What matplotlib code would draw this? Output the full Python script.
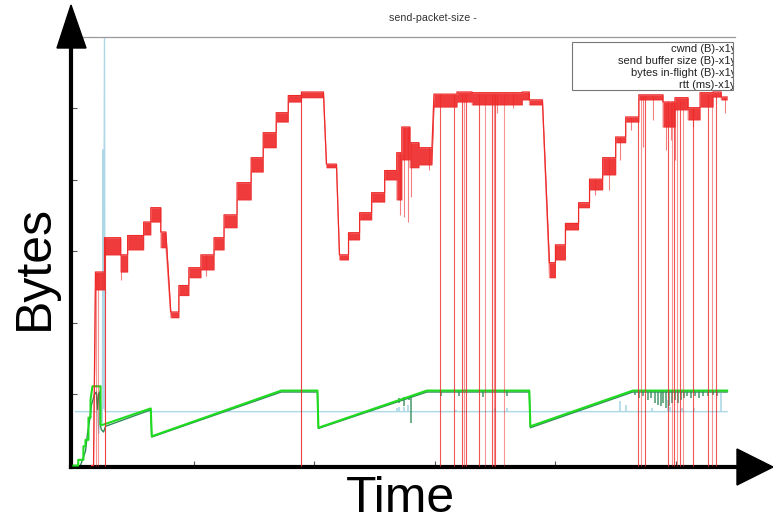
import numpy as np
import matplotlib
matplotlib.use('Agg')
import matplotlib.pyplot as plt
from matplotlib.patches import Polygon, Rectangle

plt.rcParams['font.family'] = ['Liberation Sans', 'DejaVu Sans']

title = "send-packet-size -"
series_labels = ["cwnd (B)-x1y", "send buffer size (B)-x1y",
                 "bytes in-flight (B)-x1y", "rtt (ms)-x1y"]
x_label = "Time"
y_label = "Bytes"
x_ticks = [1, 2, 3, 4, 5]
y_ticks = [1, 2, 3, 4, 5]

# ---- cwnd: plateaus (start, end, upper envelope, lower envelope) ----
cwnd_start = [0.15, 0.183, 0.258, 0.392, 0.45, 0.583, 0.642, 0.725,
              0.808, 0.875, 0.958, 1.058, 1.167, 1.25, 1.358, 1.475, 1.575, 1.683, 1.783, 1.892,
              2.1, 2.208, 2.283, 2.375, 2.475, 2.583, 2.683, 2.725, 2.792, 2.867,
              2.992, 3.183, 3.308, 3.725, 3.783,
              3.95, 4.0, 4.083, 4.192, 4.283, 4.392, 4.5, 4.583, 4.692, 4.892, 4.992, 5.1, 5.2, 5.308, 5.375]
cwnd_end = [0.167, 0.258, 0.392, 0.45, 0.583, 0.642, 0.725, 0.767,
            0.875, 0.958, 1.058, 1.167, 1.25, 1.358, 1.475, 1.575, 1.683, 1.783, 1.892, 2.075,
            2.183, 2.283, 2.375, 2.475, 2.583, 2.683, 2.725, 2.792, 2.867, 2.975,
            3.183, 3.308, 3.725, 3.783, 3.892,
            4.0, 4.083, 4.192, 4.283, 4.392, 4.5, 4.583, 4.692, 4.892, 4.992, 5.1, 5.2, 5.308, 5.375, 5.425]
cwnd_hi = [0.0, 2.71, 3.19, 2.95, 3.22, 3.41, 3.61, 3.27,
           2.15, 2.52, 2.77, 2.95, 3.19, 3.51, 3.96, 4.31, 4.66, 4.94, 5.18, 5.23,
           4.22, 2.95, 3.26, 3.54, 3.82, 4.13, 4.38, 4.74, 4.52, 4.45,
           5.20, 5.23, 5.22, 5.23, 5.12,
           2.84, 3.09, 3.39, 3.68, 4.01, 4.31, 4.60, 4.88, 5.19, 5.09, 5.15, 5.01, 5.22, 5.23, 5.16]
cwnd_lo = [0.0, 2.46, 2.95, 2.71, 3.02, 3.23, 3.41, 3.05,
           2.07, 2.38, 2.63, 2.74, 3.02, 3.33, 3.72, 4.11, 4.45, 4.81, 5.09, 5.15,
           4.17, 2.88, 3.16, 3.44, 3.69, 4.00, 3.72, 4.28, 4.17, 4.21,
           5.02, 5.09, 5.05, 5.12, 5.05,
           2.63, 2.88, 3.30, 3.61, 3.86, 4.07, 4.52, 4.81, 5.12, 4.74, 4.98, 4.84, 5.02, 5.16, 5.12]

# cwnd samples that fall to zero
cwnd_drop_t = [0.1875, 0.2, 0.2625, 1.892, 3.042, 3.158, 3.225, 3.242, 3.258, 3.367,
               3.417, 3.475, 3.488, 3.5, 3.575, 4.683, 4.708, 4.742, 4.933, 4.967,
               4.983, 5.008, 5.033, 5.058, 5.142, 5.267, 5.3, 5.333]
cwnd_drop_top = [2.7, 2.7, 3.19, 5.2, 5.2, 5.2, 5.2, 5.2, 5.2, 5.2,
                 5.2, 5.2, 5.2, 5.2, 5.2, 4.88, 5.18, 5.18, 5.1, 5.1,
                 5.1, 5.1, 5.1, 5.1, 5.0, 5.2, 5.2, 5.2]
cwnd_drop_alpha = [0.5, 0.5, 0.9, 0.9, 0.8, 0.8, 0.8, 0.5, 0.8, 0.8,
                   0.5, 0.8, 0.5, 0.8, 0.5, 0.8, 0.5, 0.8, 0.8, 0.5,
                   0.8, 0.5, 0.8, 0.5, 0.8, 0.8, 0.5, 0.8]

# partial downward cwnd spikes
cwnd_spike_t = [0.392, 1.1, 2.708, 2.742, 2.775, 2.8, 2.95, 3.517, 3.65, 4.325,
                4.442, 4.533, 4.625, 4.725, 4.808, 4.917, 4.958, 4.992, 5.142, 5.408]
cwnd_spike_top = [2.95, 2.95, 4.38, 4.74, 4.74, 4.52, 4.45, 5.2, 5.2, 4.01,
                  4.31, 4.60, 4.88, 5.19, 5.19, 5.09, 5.09, 5.09, 5.01, 5.16]
cwnd_spike_bottom = [2.6, 2.65, 3.51, 3.48, 3.41, 3.76, 4.14, 4.94, 5.0, 3.79,
                     3.86, 4.28, 4.7, 4.46, 4.84, 4.42, 4.56, 4.28, 4.74, 4.94]

# ---- send buffer size ----
sndbuf_t = [0.0, 0.04, 0.04, 0.083, 0.083, 0.1, 0.1, 0.125, 0.125, 0.142, 0.142, 0.158,
            0.225, 0.225, 0.242, 0.642, 0.65, 1.725, 2.025, 2.033, 2.933, 3.783, 3.792,
            4.642, 5.425]
sndbuf_y = [0.0, 0.0, 0.08, 0.08, 0.27, 0.27, 0.36, 0.36, 0.67, 0.67, 0.92, 1.11,
            1.11, 0.57, 0.57, 0.80, 0.41, 1.05, 1.05, 0.53, 1.05, 1.05, 0.55,
            1.05, 1.05]

# ---- bytes in-flight ----
inflight_t = [0.058, 0.083, 0.1, 0.117, 0.133, 0.15, 0.175, 0.19, 0.2, 0.208, 0.217,
              0.225, 0.233, 0.25, 0.267, 0.642, 0.65, 1.725, 2.025, 2.033, 2.933,
              3.783, 3.792, 4.642, 5.425]
inflight_y = [0.0, 0.12, 0.2, 0.45, 0.62, 0.85, 1.0, 1.03, 0.78, 1.0, 1.03,
              0.55, 0.5, 0.47, 0.55, 0.78, 0.40, 1.03, 1.03, 0.52, 1.03,
              1.03, 0.53, 1.03, 1.03]
inflight_dip_t = [2.7, 2.742, 2.783, 2.8, 3.05, 3.2, 3.4, 3.6,
                  4.658, 4.692, 4.725, 4.767, 4.792, 4.825, 4.85, 4.875, 4.892, 4.917,
                  4.942, 4.967, 4.992, 5.017, 5.042, 5.067, 5.092, 5.125, 5.158, 5.192,
                  5.225, 5.267, 5.308, 5.342]
inflight_dip_top = [0.94, 0.96, 0.97, 0.98, 1.04, 1.04, 1.04, 1.04,
                    1.04, 1.04, 1.04, 1.04, 1.04, 1.04, 1.04, 1.04, 1.04, 1.04,
                    1.04, 1.04, 1.04, 1.04, 1.04, 1.04, 1.04, 1.04, 1.04, 1.04,
                    1.04, 1.04, 1.04, 1.04]
inflight_dip_y = [0.88, 0.83, 0.92, 0.60, 0.97, 0.97, 0.96, 0.97,
                  0.99, 0.95, 0.97, 0.92, 0.95, 0.88, 0.85, 0.83, 0.87, 0.81,
                  0.84, 0.88, 0.92, 0.87, 0.92, 0.95, 0.97, 0.94, 0.98, 0.95,
                  0.97, 0.98, 0.99, 0.97]

# ---- rtt ----
rtt_t = [0.017, 0.2, 0.21, 0.225, 0.24, 0.246, 0.25, 0.258, 0.262, 0.27, 5.425]
rtt_y = [0.755, 0.755, 0.45, 0.9, 0.6, 4.42, 0.8, 6.0, 0.755, 0.755, 0.755]
rtt_spike_t = [1.3, 2.683, 2.7, 2.742, 2.775, 3.175, 3.5, 3.6, 4.2, 4.533, 4.583,
               4.8, 4.933, 4.95, 5.05, 5.15, 5.375]
rtt_spike_y = [0.8, 0.8, 0.82, 0.82, 0.85, 0.78, 0.8, 0.8, 0.78, 0.9, 0.85,
               0.8, 0.92, 0.82, 0.8, 0.8, 1.02]

RED = '#ee2a2a'
GREEN = '#1fdc1f'
DGREEN = '#2f8a57'
LBLUE = '#add8e6'

W, H = 773, 525
fig = plt.figure(figsize=(W / 100, H / 100), dpi=100)
ax = fig.add_axes([71 / W, 1 - 467 / H, (735 - 71) / W, (467 - 37) / H])
ax.set_xlim(-0.02, 5.49)
ax.set_ylim(-0.02, 6.0)

# rtt
ax.plot(rtt_t, rtt_y, color=LBLUE, lw=1.0, zorder=1)
ax.vlines(rtt_spike_t, 0.755, rtt_spike_y, color=LBLUE, lw=1.2, zorder=1)

# bytes in flight
ax.plot(inflight_t, inflight_y, color=DGREEN, lw=1.0, zorder=2)
ax.vlines(inflight_dip_t, inflight_dip_y, inflight_dip_top, color=DGREEN, lw=1.3, alpha=0.75, zorder=2)

# send buffer
ax.plot(sndbuf_t, sndbuf_y, color=GREEN, lw=1.5, zorder=3)

# cwnd
ct = np.column_stack([cwnd_start, cwnd_end]).ravel()
chi = np.repeat(cwnd_hi, 2)
clo = np.repeat(cwnd_lo, 2)
ax.fill_between(ct, clo, chi, color=RED, lw=0, alpha=0.92, zorder=4)
ax.plot(ct, chi, color=RED, lw=0.9, zorder=4)
ax.plot(ct, clo, color=RED, lw=0.7, alpha=0.5, zorder=4)
for t, top, a in zip(cwnd_drop_t, cwnd_drop_top, cwnd_drop_alpha):
    ax.vlines(t, 0, top, color=RED, lw=0.8, alpha=a, zorder=4)
ax.vlines(cwnd_spike_t, cwnd_spike_bottom, cwnd_spike_top, color=RED, lw=0.8, alpha=0.6, zorder=4)

# axes styling
ax.set_xticks(x_ticks)
ax.set_yticks(y_ticks)
ax.tick_params(direction='in', length=4, width=0.8, color='#555555',
               labelleft=False, labelbottom=False)
for s in ['left', 'bottom']:
    ax.spines[s].set_color('black')
    ax.spines[s].set_linewidth(3.0)
ax.spines['right'].set_visible(False)
ax.spines['top'].set_color('#999999')
ax.spines['top'].set_linewidth(0.9)

# arrow heads
fig.patches.append(Polygon([[71 / W, 1 - 5 / H], [57 / W, 1 - 48 / H], [86 / W, 1 - 48 / H]],
                           closed=True, transform=fig.transFigure, color='black', zorder=10))
fig.patches.append(Polygon([[773 / W, 1 - 467 / H], [737 / W, 1 - 449 / H], [737 / W, 1 - 485 / H]],
                           closed=True, transform=fig.transFigure, color='black', zorder=10))

# title & labels
fig.text(433 / W, 1 - 18 / H, title, ha='center', va='center', fontsize=7.7, color='#333333')
fig.text(400 / W, 1 - 499 / H, x_label, ha='center', va='center', fontsize=36)
fig.text(35 / W, 1 - 267 / H, y_label, ha='center', va='center', fontsize=36, rotation=90)

# legend (text only, right edge clipped)
rect = Rectangle((572 / W, 1 - 90 / H), 161 / W, 48 / H, transform=fig.transFigure,
                 facecolor='white', edgecolor='#777777', lw=0.8, zorder=20)
fig.patches.append(rect)
clip_rect = Rectangle((572 / W, 1 - 90 / H), 161 / W, 48 / H, transform=fig.transFigure,
                      facecolor='none', edgecolor='none')
for i, lab in enumerate(series_labels):
    txt = fig.text(736 / W, 1 - (48.5 + 12 * i) / H, lab, ha='right', va='center',
                   fontsize=8.0, color='#222222', zorder=21)
    txt.set_clip_path(clip_rect)

fig.savefig('out.png', dpi=100)
